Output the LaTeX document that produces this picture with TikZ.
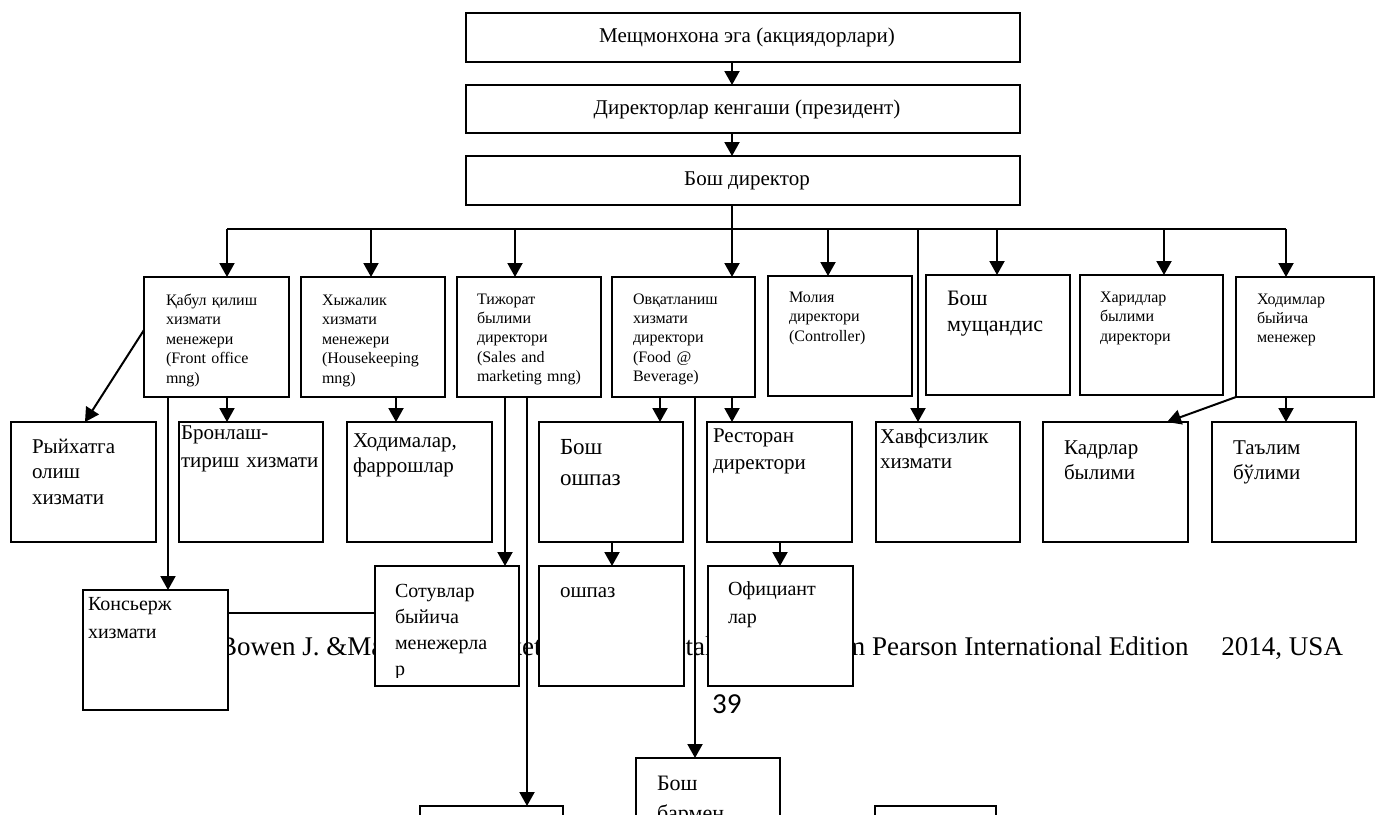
\documentclass[tikz,border=0pt]{standalone}
\usepackage{fontspec}
\setmainfont{Liberation Serif}
\newfontfamily\calib{Carlito}
\usetikzlibrary{arrows.meta,calc}
\tikzset{
  bx/.style={draw, line width=1.4pt, fill=white, inner sep=0pt, outer sep=0pt, anchor=north west},
  con/.style={line width=2pt},
  arr/.style={line width=2pt, -{Triangle[width=15pt,length=14pt]}},
  tx/.style={anchor=base west, inner sep=0pt, outer sep=0pt, align=left, text width=200pt},
  sm/.style={tx, font=\fontsize{16}{19.4}\selectfont},
  md/.style={tx, font=\fontsize{21}{25.5}\selectfont},
  tp/.style={inner sep=0pt, font=\fontsize{21}{24}\selectfont},
}
\newcommand\mkbox[5]{\node[bx, minimum width=#4-#2, minimum height=#5-#3] (#1) at (#2,#3) {};}
\begin{document}
\begin{tikzpicture}[x=1pt,y=-1pt]
\useasboundingbox (0,0) rectangle (1375,814);
\fill[white] (0,0) rectangle (1375,814);
\clip (0,0) rectangle (1375,814);
% background citation text
\node[anchor=base west, inner sep=0pt, font=\fontsize{27}{30}\selectfont] (cite) at (219,655)
  {Bowen J. \&Makens J. Marketing for Hospitality \& Tourism Pearson International Edition\hspace*{33pt}2014, USA};
\node[anchor=base west, inner sep=0pt, font=\calib\fontsize{29}{32}\selectfont] (page) at (712,713) {39};
% boxes
\mkbox{t1}{466}{13}{1020}{62}
\mkbox{t2}{466}{85}{1020}{133}
\mkbox{t3}{466}{156}{1020}{205}
\mkbox{qabul}{144}{277}{289}{397}
\mkbox{hyzh}{301}{277}{445}{397}
\mkbox{tizh}{457}{277}{601}{397}
\mkbox{ovq}{612}{277}{755}{397}
\mkbox{moliya}{768}{276}{912}{396}
\mkbox{bosh}{926}{275}{1070}{395}
\mkbox{harid}{1080}{275}{1223}{395}
\mkbox{hodim}{1236}{277}{1374}{397}
\mkbox{ryi}{11}{422}{156}{542}
\mkbox{bron}{179}{422}{323}{542}
\mkbox{hodm}{347}{422}{492}{542}
\mkbox{boshp}{539}{422}{683}{542}
\mkbox{rest}{707}{422}{852}{542}
\mkbox{havf}{876}{422}{1020}{542}
\mkbox{kadr}{1043}{422}{1188}{542}
\mkbox{talim}{1212}{422}{1356}{542}
\mkbox{kons}{83}{590}{228}{710}
\mkbox{sotuv}{375}{566}{519}{686}
\mkbox{oshpaz}{539}{566}{684}{686}
\mkbox{ofit}{708}{566}{853}{686}
\mkbox{bl}{420}{806}{563}{900}
\mkbox{barmen}{636}{758}{780}{900}
\mkbox{br}{875}{806}{996}{900}
% texts
\node[tp] (t1-t) at ([xshift=4pt]t1.center) {Мещмонхона эга (акциядорлари)};
\node[tp] (t2-t) at ([xshift=4pt]t2.center) {Директорлар кенгаши (президент)};
\node[tp] (t3-t) at ([xshift=4pt]t3.center) {Бош директор};
\node[sm] (qabul-t) at (166,305.5) {Қабул қилиш\\хизмати\\менежери\\(Front office\\mng)};
\node[sm] (hyzh-t) at (322,305.5) {Хыжалик\\хизмати\\менежери\\(Housekeeping\\mng)};
\node[sm] (tizh-t) at (477,304) {Тижорат\\былими\\директори\\(Sales and\\marketing mng)};
\node[sm] (ovq-t) at (633,304) {Овқатланиш\\хизмати\\директори\\(Food @\\Beverage)};
\node[sm, font=\fontsize{16}{19.6}\selectfont] (moliya-t) at (789,302) {Молия\\директори\\(Controller)};
\node[tx, font=\fontsize{22}{26}\selectfont] (bosh-t) at (947,305.5) {Бош\\мущандис};
\node[sm, font=\fontsize{16}{19.6}\selectfont] (harid-t) at (1100,302) {Харидлар\\былими\\директори};
\node[sm] (hodim-t) at (1257,304) {Ходимлар\\быйича\\менежер};
\node[md] (ryi-t) at (32,453) {Рыйхатга\\олиш\\хизмати};
\node[md, font=\fontsize{21}{28}\selectfont] (bron-t) at (181,439) {Бронлаш-\\тириш хизмати};
\node[md, font=\fontsize{21}{25}\selectfont] (hodm-t) at (353,447) {Ходималар,\\фаррошлар};
\node[md, font=\fontsize{23}{31}\selectfont] (boshp-t) at (560,454) {Бош\\ошпаз};
\node[md, font=\fontsize{21}{27}\selectfont] (rest-t) at (713,442) {Ресторан\\директори};
\node[md, font=\fontsize{21}{25}\selectfont] (havf-t) at (880,443) {Хавфсизлик\\хизмати};
\node[md] (kadr-t) at (1064,454) {Кадрлар\\былими};
\node[md] (talim-t) at (1233,454) {Таълим\\бўлими};
\node[md, font=\fontsize{20}{28}\selectfont] (kons-t) at (88,610) {Консьерж\\хизмати};
\begin{scope}
\clip (375,566) rectangle (519,677);
\node[md, font=\fontsize{20}{26}\selectfont] (sotuv-t) at (395,597) {Сотувлар\\быйича\\менежерла\\р};
\end{scope}
\node[md] (oshpaz-t) at (560,597) {ошпаз};
\node[md, font=\fontsize{20}{28}\selectfont] (ofit-t) at (728,595) {Официант\\лар};
\node[md, font=\fontsize{22}{30}\selectfont] (barmen-t) at (657,790) {Бош\\бармен};
% connectors
\coordinate (busL) at (227,229);
\coordinate (busR) at (1286,229);
\draw[arr] (t1.south -| 732,0) -- (t2.north -| 732,0);
\draw[arr] (t2.south -| 732,0) -- (t3.north -| 732,0);
\draw[con] (t3.south -| 732,0) -- (busL -| 732,0);
\draw[con] (busL) -- (busR);
\foreach \n/\x in {qabul/227, hyzh/371, tizh/515, ovq/732, moliya/828, bosh/997, harid/1164, hodim/1286}
  \draw[arr] (busL -| \x,0) -- (\n.north -| \x,0);
\draw[arr] (busL -| 918,0) -- (havf.north -| 918,0);
\draw[arr] (qabul.west |- 0,330) -- (ryi.north -| 85,0);
\draw[arr] (qabul.south -| 168,0) -- (kons.north -| 168,0);
\draw[arr] (qabul.south -| 227,0) -- (bron.north -| 227,0);
\draw[arr] (hyzh.south -| 396,0) -- (hodm.north -| 396,0);
\draw[arr] (tizh.south -| 505,0) -- (sotuv.north -| 505,0);
\draw[arr] (tizh.south -| 527,0) -- (bl.north -| 527,0);
\draw[arr] (ovq.south -| 660,0) -- (boshp.north -| 660,0);
\draw[arr] (ovq.south -| 695,0) -- (barmen.north -| 695,0);
\draw[arr] (ovq.south -| 732,0) -- (rest.north -| 732,0);
\draw[arr] (boshp.south -| 612,0) -- (oshpaz.north -| 612,0);
\draw[arr] (rest.south -| 780,0) -- (ofit.north -| 780,0);
\draw[arr] (hodim.south west) -- (kadr.north -| 1167,0);
\draw[arr] (hodim.south -| 1286,0) -- (talim.north -| 1286,0);
\draw[con] (kons.east |- 0,613) -- (sotuv.west |- 0,613);
\end{tikzpicture}
\end{document}
